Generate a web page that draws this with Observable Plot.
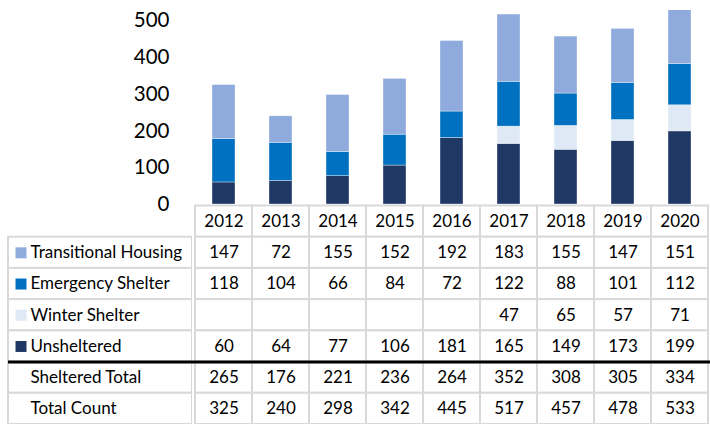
<!DOCTYPE html>
<html><head><meta charset="utf-8">
<script src="https://cdn.jsdelivr.net/npm/d3@7"></script>
<script src="https://cdn.jsdelivr.net/npm/@observablehq/plot@0.6"></script>
<style>
html,body{margin:0;padding:0;background:#fff;}
#wrap{width:710px;height:424px;overflow:hidden;font-family:Lato,sans-serif;background:#fff;}
#chart{position:relative;z-index:2;height:204px;}
#table{display:flex;position:relative;z-index:1;}
svg{display:block;}
</style></head><body>
<div id="wrap"><div id="chart"></div><div id="table"></div></div>
<script>
const years = ["2012","2013","2014","2015","2016","2017","2018","2019","2020"];
const series = ["Transitional Housing","Emergency Shelter","Winter Shelter","Unsheltered"];
const transitional = [147,72,155,152,192,183,155,147,151];
const emergency = [118,104,66,84,72,122,88,101,112];
const winter = [null,null,null,null,null,47,65,57,71];
const unsheltered = [60,64,77,106,181,165,149,173,199];
const shelteredTotal = [265,176,221,236,264,352,308,305,334];
const totalCount = [325,240,298,342,445,517,457,478,533];
const yTicks = [0,100,200,300,400,500];
const colors = ["#8faadc","#0070c0","#dee9f5","#203864"];

const seriesValues = {
  "Transitional Housing": transitional,
  "Emergency Shelter": emergency,
  "Winter Shelter": winter,
  "Unsheltered": unsheltered
};
const stackOrder = ["Unsheltered","Winter Shelter","Emergency Shelter","Transitional Housing"];

const barData = [];
years.forEach((yr, j) => {
  stackOrder.forEach(s => {
    const v = seriesValues[s][j];
    if (v != null) barData.push({year: yr, series: s, value: v});
  });
});

const chart = Plot.plot({
  width: 710, height: 204,
  marginLeft: 192, marginRight: 0, marginTop: 10, marginBottom: 0,
  style: {fontFamily: "Lato, sans-serif", fontSize: "20.5px", color: "#000", background: "transparent", overflow: "visible"},
  x: {type: "band", domain: years, paddingInner: 0.6, paddingOuter: 0.3, axis: null},
  y: {domain: [0, 528], ticks: yTicks, tickSize: 0, tickPadding: 23, label: null, tickFormat: d => String(d)},
  color: {domain: series, range: colors},
  marks: [
    Plot.barY(barData, {x: "year", y: "value", fill: "series", stroke: "white", strokeOpacity: 0.6, strokeWidth: 0.6, clip: true})
  ]
});
document.getElementById("chart").appendChild(chart);

// table
const rows = ["year", ...series, "Sheltered Total", "Total Count"];
const rowValues = {...seriesValues, "Sheltered Total": shelteredTotal, "Total Count": totalCount};
const cellData = [];
rows.forEach((r, i) => {
  years.forEach((yr, j) => {
    let t;
    if (r === "year") t = yr;
    else { const v = rowValues[r][j]; t = v == null ? "" : String(v); }
    cellData.push({row: r, i, year: yr, text: t});
  });
});
const labelRows = rows.map((r, i) => ({row: r, i})).filter(d => d.row !== "year");
const swatchRows = labelRows.filter(d => series.includes(d.row));
const thickAt = rows.indexOf("Sheltered Total");
const grid = "#d9d9d9";

const common = {
  height: 220, marginRight: 0, marginTop: 1.5, marginBottom: 0,
  style: {fontFamily: "Lato, sans-serif", fontSize: "17px", color: "#000", background: "transparent"},
  y: {domain: [0, rows.length], reverse: true, axis: null},
  color: {domain: series, range: colors}
};

const labelPlot = Plot.plot({
  ...common,
  width: 192, marginLeft: 8,
  x: {type: "band", domain: ["label"], padding: 0, axis: null},
  marks: [
    Plot.barY(labelRows, {x: () => "label", y1: "i", y2: d => d.i + 1, fill: "white", stroke: grid, strokeWidth: 2}),
    Plot.dot(swatchRows, {y: d => d.i + 0.5, frameAnchor: "left", dx: 12.5, symbol: "square", r: 6.2, fill: "row", stroke: null}),
    Plot.text(labelRows, {y: d => d.i + 0.5, text: "row", frameAnchor: "left", dx: 22, textAnchor: "start", fill: "#000"}),
    Plot.ruleY([thickAt], {stroke: "black", strokeWidth: 3})
  ]
});

const valuePlot = Plot.plot({
  ...common,
  width: 518, marginLeft: 0,
  x: {type: "band", domain: years, padding: 0, axis: null},
  marks: [
    Plot.barY(cellData, {x: "year", y1: "i", y2: d => d.i + 1, fill: "white", stroke: grid, strokeWidth: 2}),
    Plot.text(cellData, {x: "year", y: d => d.i + 0.5, text: "text", fill: "#000"}),
    Plot.ruleY([thickAt], {stroke: "black", strokeWidth: 3})
  ]
});
document.getElementById("table").appendChild(labelPlot);
document.getElementById("table").appendChild(valuePlot);
</script>
</body></html>
